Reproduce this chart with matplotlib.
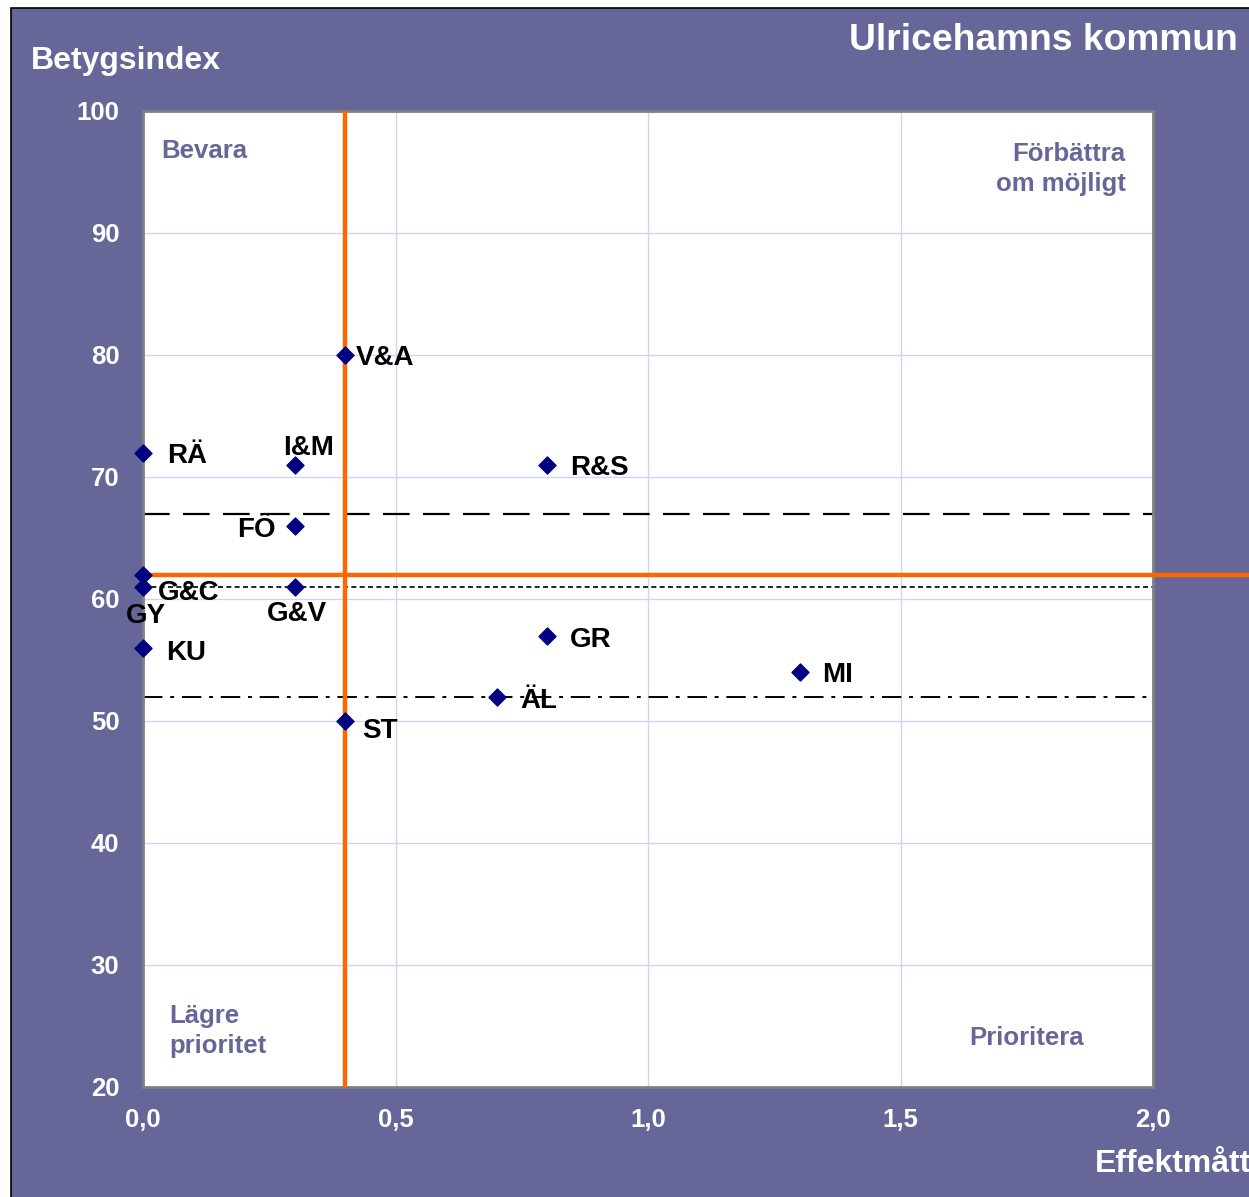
import matplotlib.pyplot as plt
from matplotlib.patches import Rectangle

# Data
names = ["V&A", "RÄ", "I&M", "R&S", "FÖ", "GY", "G&C", "G&V", "KU", "GR", "MI", "ÄL", "ST"]
effekt = [0.4, 0.0, 0.3, 0.8, 0.3, 0.0, 0.0, 0.3, 0.0, 0.8, 1.3, 0.7, 0.4]
betyg = [80, 72, 71, 71, 66, 62, 61, 61, 56, 57, 54, 52, 50]

x_ticks = [0.0, 0.5, 1.0, 1.5, 2.0]
y_ticks = [20, 30, 40, 50, 60, 70, 80, 90, 100]

mean_effekt = 0.4
mean_betyg = 62
ref_dashed = 67
ref_dotted = 61
ref_dashdot = 52

# label placement (offset pixels, ha)
label_pos = {
    "V&A": (11, 0, "left"),
    "RÄ": (24, 0, "left"),
    "I&M": (-11, 20, "left"),
    "R&S": (23, 0, "left"),
    "FÖ": (-19, -1, "right"),
    "GY": (3, -38, "center"),
    "G&C": (15, -3, "left"),
    "G&V": (2, -24, "center"),
    "KU": (23, -2, "left"),
    "GR": (23, -1, "left"),
    "MI": (23, 0, "left"),
    "ÄL": (24, -1, "left"),
    "ST": (17, -7, "left"),
}

bg = "#666699"
plt.rcParams['font.family'] = ['Liberation Sans', 'DejaVu Sans']
plt.rcParams['font.weight'] = 'bold'

fig = plt.figure(figsize=(12.49, 11.97), dpi=100, facecolor="white")
fig.patches.append(Rectangle((11 / 1249, -0.01), 1.0, 1 - 8 / 1197 + 0.01,
                             transform=fig.transFigure, facecolor=bg,
                             edgecolor="black", linewidth=1.2, zorder=-10))

ax = fig.add_axes([143 / 1249, 110 / 1197, 1010 / 1249, 976 / 1197])
ax.set_zorder(2)
ax.set_facecolor("white")
ax.set_xlim(0, 2)
ax.set_ylim(20, 100)
ax.set_xticks(x_ticks)
ax.set_yticks(y_ticks)
ax.set_xticklabels([f"{t:.1f}".replace(".", ",") for t in x_ticks])
ax.set_yticklabels([str(t) for t in y_ticks])
ax.tick_params(length=0, labelsize=18.5, labelcolor="white")
ax.tick_params(axis="x", pad=15)
ax.tick_params(axis="y", pad=17)
for lab in ax.get_xticklabels() + ax.get_yticklabels():
    lab.set_fontweight("bold")
ax.grid(True, color="#d2d2f8", linewidth=1)
ax.set_axisbelow(True)
for sp in ax.spines.values():
    sp.set_color("#808080")
    sp.set_linewidth(2)

# reference lines
ax.axhline(ref_dashed, color="black", linewidth=1.6, dashes=(12, 6))
ax.axhline(ref_dotted, color="black", linewidth=1.2, dashes=(3, 2))
ax.axhline(ref_dashdot, color="black", linewidth=1.4, dashes=(10, 4, 2, 4))
ax.plot([0, 2.19], [mean_betyg, mean_betyg], color="#ff6600", linewidth=3.2,
        clip_on=False, zorder=3)
ax.axvline(mean_effekt, color="#ff6600", linewidth=3.2, zorder=3)

ax.scatter(effekt, betyg, marker="D", s=75, color="#000080", zorder=5, clip_on=False)

for n, x, y in zip(names, effekt, betyg):
    dx, dy, ha = label_pos[n]
    ax.annotate(n, (x, y), xytext=(dx, dy), textcoords="offset pixels",
                ha=ha, va="center_baseline", fontsize=20, fontweight="bold",
                color="black", zorder=6)

# quadrant labels
qc = "#666699"
ax.text(0.018, 0.959, "Bevara", transform=ax.transAxes, fontsize=18.5,
        color=qc, fontweight="bold", va="center")
ax.text(0.973, 0.968, "Förbättra\nom möjligt", transform=ax.transAxes,
        fontsize=18.5, color=qc, fontweight="bold", ha="right", va="top",
        linespacing=1.3)
ax.text(0.026, 0.085, "Lägre\nprioritet", transform=ax.transAxes,
        fontsize=18.5, color=qc, fontweight="bold", ha="left", va="top",
        linespacing=1.3)
ax.text(0.818, 0.050, "Prioritera", transform=ax.transAxes, fontsize=18.5,
        color=qc, fontweight="bold", va="center")

# titles
fig.text(31 / 1249, 1 - 61 / 1197, "Betygsindex", fontsize=23, color="white",
         fontweight="bold", va="center")
fig.text(1238 / 1249, 1 - 41 / 1197, "Ulricehamns kommun", fontsize=26.8,
         color="white", fontweight="bold", va="center", ha="right")
fig.text(1095 / 1249, 1 - 1164 / 1197, "Effektmått", fontsize=23, color="white",
         fontweight="bold", va="center")

fig.savefig("out.png", dpi=100, facecolor=fig.get_facecolor())
